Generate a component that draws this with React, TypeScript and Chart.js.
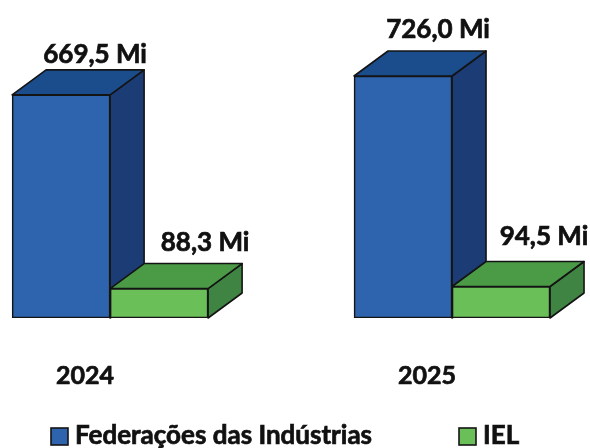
import { useEffect, useRef } from "react";
import { Chart, registerables } from "chart.js";

Chart.register(...registerables);

const years = [2024, 2025];
const federacoes = [669.5, 726.0];
const iel = [88.3, 94.5];
const seriesNames = ["Federações das Indústrias", "IEL"];
const valueLabels = [["669,5 Mi", "726,0 Mi"], ["88,3 Mi", "94,5 Mi"]];

const FONT = "Lato, Carlito, sans-serif";
const front = ["#2E64AE", "#6BBF59"];
const topFace = ["#1B4C8C", "#4A9A46"];
const sideFace = ["#1B3C74", "#3F8442"];
const EDGE = "#141414";
const DX = 34;
const DY = 25;
const labelShift = [[34, 35], [46, 43]];
const labelLift = [[7, 13], [13, 17]];

const faces3d = {
  id: "faces3d",
  beforeDatasetsDraw(chart: any) {
    const { ctx } = chart;
    ctx.save();
    ctx.lineWidth = 1.6;
    ctx.strokeStyle = EDGE;
    ctx.lineJoin = "round";
    chart.data.datasets.forEach((_: any, d: number) => {
      chart.getDatasetMeta(d).data.forEach((bar: any) => {
        const { x, y, base, width } = bar.getProps(["x", "y", "base", "width"], true);
        const l = x - width / 2;
        const r = x + width / 2;
        const poly = (pts: number[][], fill: string) => {
          ctx.beginPath();
          pts.forEach((p, k) => (k ? ctx.lineTo(p[0], p[1]) : ctx.moveTo(p[0], p[1])));
          ctx.closePath();
          ctx.fillStyle = fill;
          ctx.fill();
          ctx.stroke();
        };
        poly([[r, y], [r + DX, y - DY], [r + DX, base - DY], [r, base]], sideFace[d]);
        poly([[l, y], [l + DX, y - DY], [r + DX, y - DY], [r, y]], topFace[d]);
      });
    });
    ctx.restore();
  },
  afterDatasetsDraw(chart: any) {
    const { ctx } = chart;
    ctx.save();
    ctx.font = `bold 26px ${FONT}`;
    ctx.lineWidth = 0.7;
    ctx.strokeStyle = "#111111";
    ctx.fillStyle = "#111111";
    ctx.textAlign = "center";
    ctx.textBaseline = "alphabetic";
    chart.data.datasets.forEach((_: any, d: number) => {
      chart.getDatasetMeta(d).data.forEach((bar: any, i: number) => {
        const { x, y } = bar.getProps(["x", "y"], true);
        const tx = x + labelShift[d][i];
        const ty = y - DY - labelLift[d][i];
        ctx.fillText(valueLabels[d][i], tx, ty);
        ctx.strokeText(valueLabels[d][i], tx, ty);
      });
    });
    ctx.restore();
  },
};

const bottomLegend = {
  id: "bottomLegend",
  afterDraw(chart: any) {
    const { ctx } = chart;
    const boxX = [51, 459];
    ctx.save();
    ctx.font = `bold 26px ${FONT}`;
    ctx.textBaseline = "middle";
    ctx.textAlign = "left";
    chart.data.datasets.forEach((ds: any, d: number) => {
      ctx.fillStyle = ds.backgroundColor;
      ctx.strokeStyle = EDGE;
      ctx.lineWidth = 1.6;
      ctx.fillRect(boxX[d], 428, 17, 17);
      ctx.strokeRect(boxX[d], 428, 17, 17);
      ctx.fillStyle = "#111111";
      ctx.strokeStyle = "#111111";
      ctx.lineWidth = 0.7;
      ctx.fillText(ds.label, boxX[d] + 24, 436);
      ctx.strokeText(ds.label, boxX[d] + 24, 436);
    });
    ctx.restore();
  },
};

export default function App() {
  const ref = useRef<HTMLCanvasElement>(null);
  useEffect(() => {
    document.body.style.margin = "0";
    const chart = new Chart(ref.current!, {
      type: "bar",
      data: {
        datasets: [
          {
            label: seriesNames[0],
            data: years.map((x, i) => ({ x, y: federacoes[i] })),
            backgroundColor: front[0],
            borderColor: EDGE,
            borderWidth: 1.6,
            borderSkipped: false,
            barThickness: 98,
          },
          {
            label: seriesNames[1],
            data: years.map((x, i) => ({ x, y: iel[i] })),
            backgroundColor: front[1],
            borderColor: EDGE,
            borderWidth: 1.6,
            borderSkipped: false,
            barThickness: 98,
          },
        ],
      },
      options: {
        animation: false,
        responsive: false,
        layout: { padding: 0 },
        plugins: { legend: { display: false }, tooltip: { enabled: false } },
        scales: {
          x: {
            type: "linear",
            offset: false,
            min: 2023.678,
            max: 2025.4035,
            afterFit: (s: any) => {
              s.height = 130;
            },
            grid: { display: false },
            border: { display: false },
            ticks: {
              stepSize: 1,
              includeBounds: false,
              padding: 35,
              labelOffset: -25,
              maxRotation: 0,
              color: "#111111",
              textStrokeColor: "#111111",
              textStrokeWidth: 0.7,
              font: { family: FONT, size: 25, weight: "bold" },
              callback: (v: any) => String(v),
            },
          },
          y: { display: false, min: 0, max: 954 },
        },
      },
      plugins: [faces3d, bottomLegend],
    } as any);
    return () => chart.destroy();
  }, []);
  return <canvas ref={ref} width={590} height={448} style={{ display: "block" }} />;
}
